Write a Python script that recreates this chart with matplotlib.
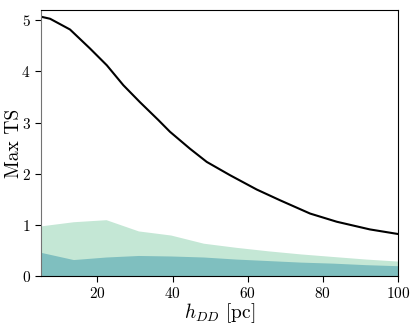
import numpy as np
import matplotlib
matplotlib.use("Agg")
import matplotlib.pyplot as plt

plt.rcParams['font.family'] = 'serif'
plt.rcParams['font.serif'] = ['cmr10', 'DejaVu Serif']
plt.rcParams['mathtext.fontset'] = 'cm'
plt.rcParams['axes.formatter.use_mathtext'] = True

# h_DD grid for the bands (pc)
h_dd = [5, 13.6, 22.3, 30.9, 39.5, 48.2, 56.8, 65.5, 74.1, 82.7, 91.4, 100]

# max TS curve (read at finer spacing)
h_line = [5, 7.4, 12.7, 18, 22.5, 26.9, 31.3, 36.2, 39.3, 44.6, 49.1,
          55.3, 62.4, 68.6, 76.6, 83.7, 92.5, 100]
max_ts = [5.07, 5.03, 4.82, 4.45, 4.12, 3.73, 3.40, 3.05, 2.82, 2.49, 2.23,
          1.97, 1.69, 1.48, 1.22, 1.06, 0.91, 0.82]

# bands
band_upper = [0.98, 1.06, 1.10, 0.88, 0.80, 0.64, 0.56, 0.49, 0.43, 0.38, 0.33, 0.29]
band_lower = [0.46, 0.32, 0.37, 0.40, 0.39, 0.37, 0.33, 0.30, 0.27, 0.25, 0.22, 0.20]

fig = plt.figure(figsize=(4.15, 3.25), dpi=100)
ax = fig.add_axes([0.099, 0.151, 0.860, 0.818])

ax.fill_between(h_dd, 0, band_upper, color='#c4e7d5', lw=0)
ax.fill_between(h_dd, 0, band_lower, color='#7fbfbf', lw=0)
ax.plot(h_line, max_ts, c='k', lw=1.5)

ax.set_xlim(5, 100)
ax.set_ylim(0, 5.2)
ax.set_xticks([20, 40, 60, 80, 100])
ax.set_yticks([0, 1, 2, 3, 4, 5])
ax.tick_params(labelsize=11, length=4, width=0.8)
ax.spines['left'].set_color('0.45')

ax.set_xlabel(r'$h_{DD}$ [pc]', fontsize=14, labelpad=0)
ax.set_ylabel('Max TS', fontsize=14, labelpad=-1)

fig.savefig('out.png', dpi=100)
